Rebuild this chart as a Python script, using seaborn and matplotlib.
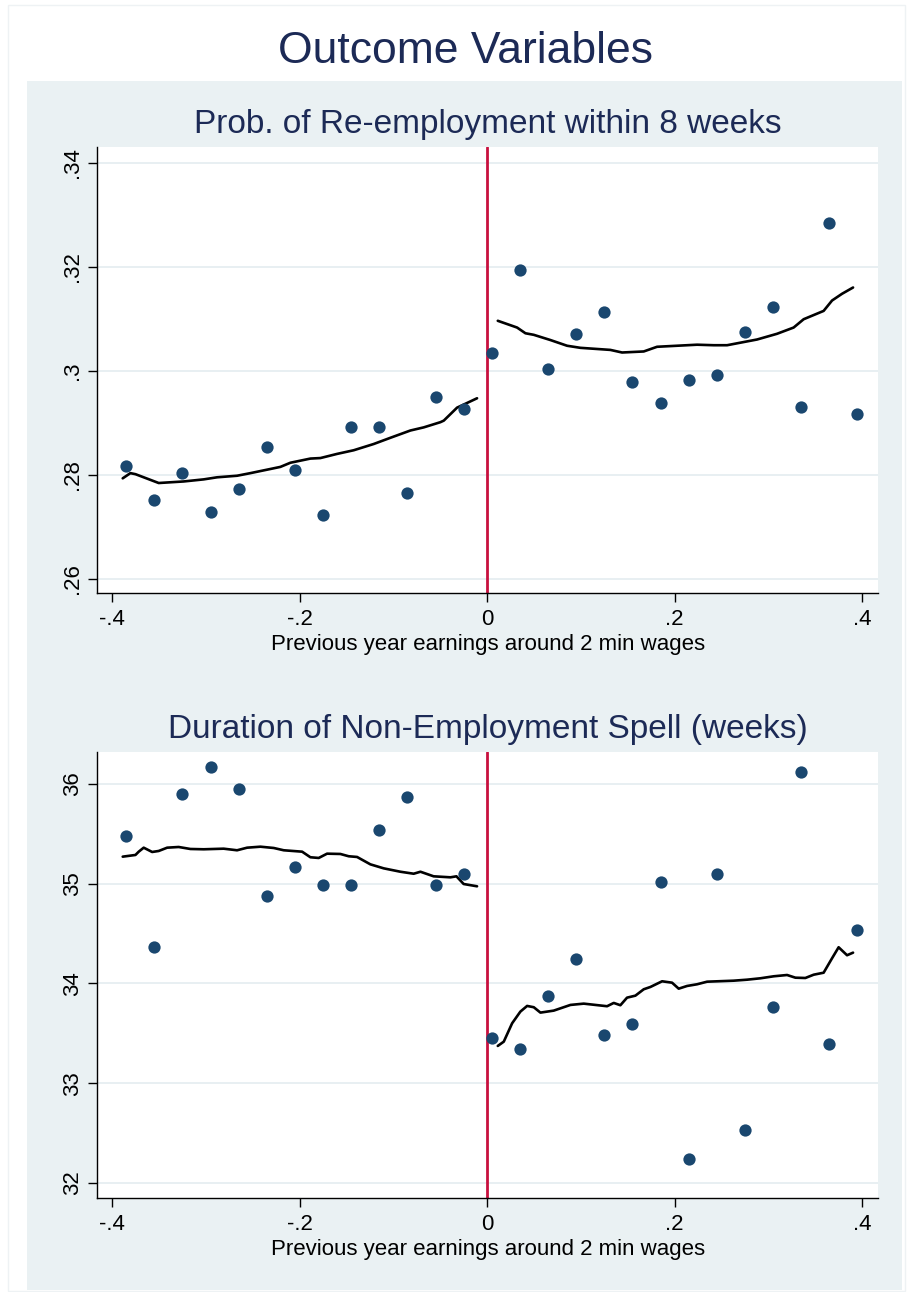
import matplotlib
matplotlib.use("Agg")
import matplotlib.pyplot as plt
from matplotlib.patches import Rectangle
import numpy as np
import pandas as pd
import seaborn as sns

# ---- data -----------------------------------------------------------------
bins = [-0.385, -0.355, -0.325, -0.295, -0.265, -0.235, -0.205, -0.175, -0.145,
        -0.115, -0.085, -0.055, -0.025, 0.005, 0.035, 0.065, 0.095, 0.125,
        0.155, 0.185, 0.215, 0.245, 0.275, 0.305, 0.335, 0.365, 0.395]

reemp_means = [0.2817, 0.2752, 0.2804, 0.2728, 0.2772, 0.2853, 0.2809, 0.2722,
               0.2891, 0.2892, 0.2765, 0.2950, 0.2926, 0.3035, 0.3194, 0.3003,
               0.3070, 0.3112, 0.2978, 0.2937, 0.2983, 0.2991, 0.3074, 0.3122,
               0.2930, 0.3284, 0.2917]

dur_means = [35.478, 34.369, 35.896, 36.172, 35.949, 34.874, 35.164, 34.984,
             34.984, 35.538, 35.869, 34.990, 35.097, 33.457, 33.347, 33.872,
             34.245, 33.487, 33.597, 35.017, 32.245, 35.100, 32.529, 33.762,
             36.122, 33.391, 34.539]

# local smoother, left and right of the cutoff
reemp_fit_left_x = [-0.3887, -0.3805, -0.3751, -0.3503, -0.3236, -0.3023, -0.2880,
                    -0.2667, -0.2525, -0.2311, -0.2205, -0.2098, -0.1885, -0.1778,
                    -0.1600, -0.1423, -0.1210, -0.1031, -0.0818, -0.0676, -0.0498,
                    -0.0462, -0.0320, -0.0213, -0.0107]
reemp_fit_left_y = [0.2793, 0.2803, 0.2801, 0.2784, 0.2787, 0.2791, 0.2795,
                    0.2798, 0.2803, 0.2811, 0.2815, 0.2823, 0.2831, 0.2832,
                    0.2840, 0.2847, 0.2859, 0.2871, 0.2885, 0.2891, 0.2901,
                    0.2904, 0.2929, 0.2938, 0.2947]
reemp_fit_right_x = [0.0114, 0.0320, 0.0409, 0.0498, 0.0675, 0.0853, 0.0995,
                     0.1315, 0.1440, 0.1671, 0.1813, 0.2240, 0.2418, 0.2560,
                     0.2880, 0.3093, 0.3270, 0.3377, 0.3590, 0.3680, 0.3787,
                     0.3904]
reemp_fit_right_y = [0.3096, 0.3083, 0.3072, 0.3069, 0.3059, 0.3048, 0.3044,
                     0.3040, 0.3035, 0.3037, 0.3046, 0.3050, 0.3049, 0.3049,
                     0.3060, 0.3071, 0.3083, 0.3099, 0.3115, 0.3135, 0.3148,
                     0.3160]

dur_fit_left_x = [-0.3887, -0.3751, -0.3716, -0.3663, -0.3573, -0.3503, -0.3413,
                  -0.3290, -0.3165, -0.3023, -0.2810, -0.2667, -0.2560, -0.2418,
                  -0.2276, -0.2169, -0.1973, -0.1885, -0.1796, -0.1707, -0.1565,
                  -0.1476, -0.1387, -0.1245, -0.1103, -0.0925, -0.0783, -0.0711,
                  -0.0570, -0.0391, -0.0327, -0.0250, -0.0107]
dur_fit_left_y = [35.271, 35.288, 35.321, 35.361, 35.318, 35.328, 35.361,
                  35.368, 35.348, 35.345, 35.351, 35.335, 35.361, 35.371,
                  35.358, 35.335, 35.321, 35.265, 35.258, 35.301, 35.298,
                  35.275, 35.268, 35.194, 35.154, 35.120, 35.100, 35.120,
                  35.074, 35.064, 35.074, 34.997, 34.974]
dur_fit_right_x = [0.0114, 0.0178, 0.0267, 0.0355, 0.0427, 0.0498, 0.0569,
                   0.0711, 0.0889, 0.1031, 0.1280, 0.1351, 0.1422, 0.1493,
                   0.1582, 0.1671, 0.1742, 0.1867, 0.1973, 0.2044, 0.2133,
                   0.2240, 0.2347, 0.2630, 0.2773, 0.2915, 0.3057, 0.3200,
                   0.3289, 0.3395, 0.3484, 0.3590, 0.3680, 0.3750, 0.3840,
                   0.3904]
dur_fit_right_y = [33.374, 33.417, 33.601, 33.718, 33.775, 33.762, 33.708,
                   33.728, 33.785, 33.798, 33.772, 33.805, 33.782, 33.858,
                   33.878, 33.942, 33.965, 34.022, 34.008, 33.948, 33.975,
                   33.992, 34.018, 34.028, 34.038, 34.052, 34.072, 34.085,
                   34.058, 34.055, 34.088, 34.108, 34.253, 34.363, 34.283,
                   34.309]

x_ticks = [-0.4, -0.2, 0.0, 0.2, 0.4]
x_tick_labels = ["-.4", "-.2", "0", ".2", ".4"]
reemp_ticks = [0.26, 0.28, 0.30, 0.32, 0.34]
reemp_tick_labels = [".26", ".28", ".3", ".32", ".34"]
dur_ticks = [32, 33, 34, 35, 36]
dur_tick_labels = ["32", "33", "34", "35", "36"]

main_title = "Outcome Variables"
titles = ["Prob. of Re-employment within 8 weeks",
          "Duration of Non-Employment Spell (weeks)"]
x_label = "Previous year earnings around 2 min wages"

# ---- style ----------------------------------------------------------------
sns.set_theme(style="white")
plt.rcParams["font.family"] = ["Liberation Sans", "DejaVu Sans"]

NAVY = "#1A476F"
CUTOFF = "#C8103E"
PANEL = "#EAF1F3"
GRID = "#E6EEF1"
TITLE_C = "#1C2A56"

W, H = 908, 1292
fig = plt.figure(figsize=(W / 100, H / 100), dpi=100, facecolor="white")

# graph region background and faint outer frame
fig.patches.append(Rectangle((8 / W, 1 - 1291 / H), (905 - 8) / W, (1291 - 5) / H,
                             transform=fig.transFigure, facecolor="white",
                             edgecolor="#EEF2F4", linewidth=1.0, zorder=-2))
fig.patches.append(Rectangle((27 / W, 1 - 1290 / H), (902 - 27) / W, (1290 - 81) / H,
                             transform=fig.transFigure, facecolor=PANEL,
                             edgecolor="none", zorder=-1))

fig.text(466 / W, 1 - 63 / H, main_title, ha="center", va="baseline",
         fontsize=32, color=TITLE_C)

ax_left = 97.3 / W
ax_w = (878 - 97.3) / W
ax_top = fig.add_axes([ax_left, (H - 593.3) / H, ax_w, (593.3 - 146.7) / H])
ax_bot = fig.add_axes([ax_left, (H - 1197.7) / H, ax_w, (1197.7 - 751.7) / H])

panels = [
    (ax_top, reemp_means, (reemp_fit_left_x, reemp_fit_left_y),
     (reemp_fit_right_x, reemp_fit_right_y), reemp_ticks, reemp_tick_labels,
     (0.25719, 0.34308), titles[0]),
    (ax_bot, dur_means, (dur_fit_left_x, dur_fit_left_y),
     (dur_fit_right_x, dur_fit_right_y), dur_ticks, dur_tick_labels,
     (31.853, 36.323), titles[1]),
]

for ax, means, fit_l, fit_r, yt, ytl, ylim, title in panels:
    ax.set_facecolor("white")
    for v in yt:
        ax.axhline(v, color=GRID, linewidth=1.3, zorder=0)
    ax.axvline(0, color=CUTOFF, linewidth=2.0, zorder=1)

    pts = pd.DataFrame({"x": bins, "y": means})
    sns.scatterplot(data=pts, x="x", y="y", ax=ax, color=NAVY, s=78,
                    linewidth=0, zorder=3)
    for fx, fy in (fit_l, fit_r):
        fit = pd.DataFrame({"x": fx, "y": fy})
        sns.lineplot(data=fit, x="x", y="y", ax=ax, color="black",
                     linewidth=1.9, sort=False, estimator=None, zorder=2)

    ax.set_xlim(-0.4158, 0.4170)
    ax.set_ylim(*ylim)
    ax.set_xticks(x_ticks)
    ax.set_xticklabels(x_tick_labels)
    ax.set_yticks(yt)
    ax.set_yticklabels(ytl, rotation=90, va="center")
    ax.tick_params(axis="both", which="major", direction="out", length=6.5,
                   width=1, color="black", labelsize=16, labelcolor="black",
                   bottom=True, left=True)
    ax.tick_params(axis="x", pad=5)
    ax.tick_params(axis="y", pad=4)
    ax.set_xlabel(x_label, fontsize=16, color="black", labelpad=3)
    ax.set_ylabel("")
    ax.set_title(title, fontsize=24, color=TITLE_C, pad=10)
    for side in ("top", "right"):
        ax.spines[side].set_visible(False)
    for side in ("left", "bottom"):
        ax.spines[side].set_color("black")
        ax.spines[side].set_linewidth(1.0)

fig.savefig("out.png", dpi=100, facecolor="white")
